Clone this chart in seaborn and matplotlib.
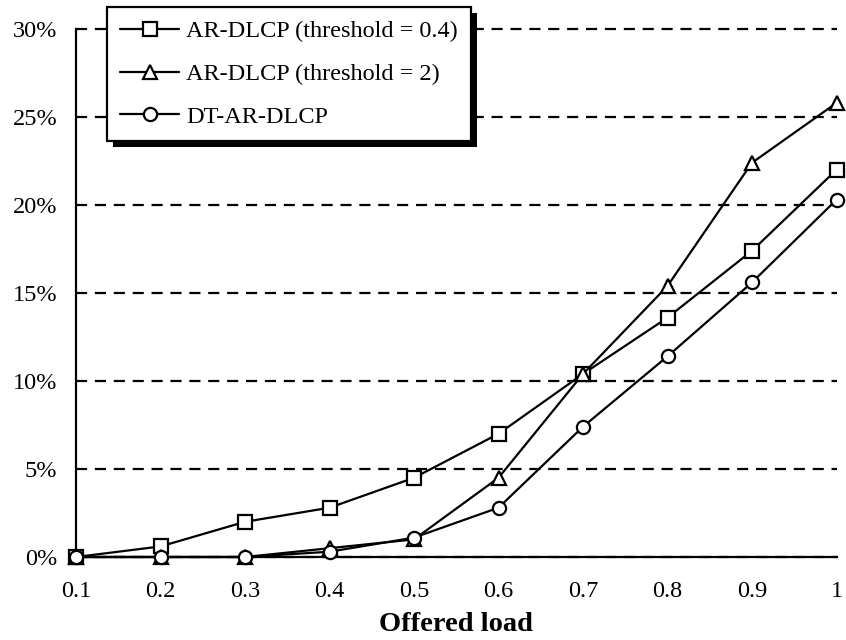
import matplotlib
matplotlib.use("Agg")
import matplotlib.pyplot as plt
import seaborn as sns
import pandas as pd
from matplotlib.patches import Rectangle
from matplotlib.ticker import FuncFormatter

loads = [0.1, 0.2, 0.3, 0.4, 0.5, 0.6, 0.7, 0.8, 0.9, 1.0]
ar_04 = [0.0, 0.6, 2.0, 2.8, 4.5, 7.0, 10.4, 13.6, 17.4, 22.0]
ar_2 = [0.0, 0.0, 0.0, 0.5, 1.0, 4.5, 10.4, 15.4, 22.4, 25.8]
dt_ar = [0.0, 0.0, 0.0, 0.3, 1.1, 2.8, 7.4, 11.4, 15.6, 20.3]
names = ["AR-DLCP (threshold = 0.4)", "AR-DLCP (threshold = 2)", "DT-AR-DLCP"]
xticklabels = ["0.1", "0.2", "0.3", "0.4", "0.5", "0.6", "0.7", "0.8", "0.9", "1"]

rows = []
for name, vals in zip(names, [ar_04, ar_2, dt_ar]):
    for x, v in zip(loads, vals):
        rows.append({"load": x, "value": v, "series": name})
df = pd.DataFrame(rows)

sns.set_style("white")
plt.rcParams["font.family"] = ["Liberation Serif", "DejaVu Serif"]
plt.rcParams["text.color"] = "black"
plt.rcParams["axes.labelcolor"] = "black"

fig = plt.figure(figsize=(8.46, 6.4), dpi=100)
ax = fig.add_axes([76 / 846, 1 - 557 / 640, (836.5 - 76) / 846, (557 - 29) / 640])

sns.lineplot(data=df, x="load", y="value", hue="series", style="series",
             markers={names[0]: "s", names[1]: "^", names[2]: "o"},
             dashes=False, palette={n: "black" for n in names},
             markersize=9.5, markerfacecolor="white", markeredgecolor="black",
             markeredgewidth=1.6, linewidth=1.6, ax=ax, clip_on=False, zorder=5)

ax.set_xlim(0.1, 1.0)
ax.set_ylim(0, 30)
ax.set_xticks(loads)
ax.set_xticklabels(xticklabels)
ax.set_yticks([0, 5, 10, 15, 20, 25, 30])
ax.yaxis.set_major_formatter(FuncFormatter(lambda v, p: f"{int(v)}%"))
ax.tick_params(axis="both", direction="inout", length=11, width=1.6, colors="black",
               labelcolor="black", labelsize=17.5)
ax.tick_params(axis="y", pad=8)
ax.tick_params(axis="x", pad=12)
for s in ["top", "right"]:
    ax.spines[s].set_visible(False)
for s in ["left", "bottom"]:
    ax.spines[s].set_color("black")
    ax.spines[s].set_linewidth(1.6)
ax.yaxis.grid(True, linestyle=(0, (5, 3.5)), color="black", linewidth=1.6)
ax.xaxis.grid(False)
ax.set_axisbelow(True)
for gl in ax.get_ygridlines():
    gl.set_clip_on(False)
ax.set_xlabel("Offered load", fontsize=20.5, fontweight="bold", labelpad=7)
ax.set_ylabel("")

handles, labels = ax.get_legend_handles_labels()
leg = ax.legend(handles, labels, loc="upper left",
                bbox_to_anchor=(107 / 846, 1 - 7 / 640), bbox_transform=fig.transFigure,
                borderaxespad=0, frameon=True, fancybox=False, fontsize=17.5,
                handlelength=2.4, handletextpad=0.3, labelspacing=0.85,
                borderpad=0.55, edgecolor="black", framealpha=1)
leg.get_frame().set_linewidth(1.6)
leg.set_zorder(20)

fig.canvas.draw()
bb = leg.get_window_extent()
off = 6
shadow = Rectangle((bb.x0 + off, bb.y0 - off), bb.width, bb.height,
                   transform=None, facecolor="black", edgecolor="none",
                   zorder=19, clip_on=False)
ax.add_artist(shadow)

fig.savefig("out.png", dpi=100)
